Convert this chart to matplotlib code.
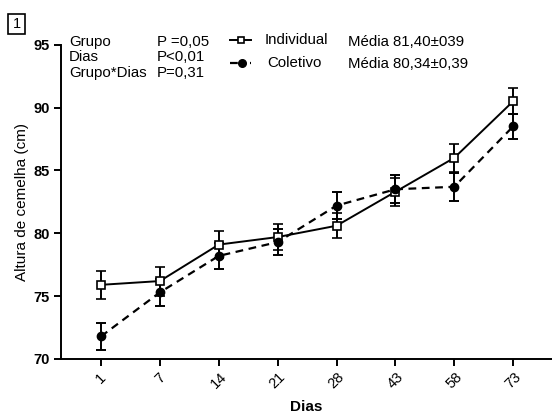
import matplotlib
matplotlib.use("Agg")
import matplotlib.pyplot as plt
from matplotlib.lines import Line2D
from matplotlib.patches import Rectangle
import numpy as np

plt.rcParams['font.family'] = ['Liberation Sans', 'DejaVu Sans']

dias = ["1", "7", "14", "21", "28", "43", "58", "73"]
individual = [75.9, 76.2, 79.1, 79.7, 80.6, 83.3, 86.0, 90.5]
individual_err = [1.1, 1.15, 1.1, 1.05, 1.0, 1.1, 1.1, 1.05]
coletivo = [71.8, 75.3, 78.2, 79.3, 82.2, 83.5, 83.7, 88.5]
coletivo_err = [1.1, 1.1, 1.05, 1.05, 1.1, 1.1, 1.1, 1.0]

fig = plt.figure(figsize=(5.52, 4.17), dpi=100)
ax = fig.add_axes([61/552, 58/417, 1 - 61/552, (359-44.7)/417])

x = np.arange(len(dias))
ax.errorbar(x, individual, yerr=individual_err, color='black', lw=1.4,
            marker='s', ms=5.5, mfc='white', mec='black', mew=1.2,
            capsize=3.5, elinewidth=1.4, capthick=1.4, zorder=3)
ax.errorbar(x, coletivo, yerr=coletivo_err, color='black', lw=1.6, ls=(0, (3.5, 2.5)),
            marker='o', ms=6, mfc='black', mec='black',
            capsize=3.5, elinewidth=1.4, capthick=1.4, zorder=3)

ax.set_xlim(-0.68, 7.66)
ax.set_ylim(70, 95)
ax.set_yticks([70, 75, 80, 85, 90, 95])
ax.set_xticks(x)
ax.set_xticklabels(dias, rotation=45, fontsize=10.5)
for lab in ax.get_yticklabels():
    lab.set_fontsize(10.5)
    lab.set_fontweight('bold')
ax.spines['top'].set_visible(False)
ax.spines['right'].set_visible(False)
ax.spines['left'].set_linewidth(1.4)
ax.spines['bottom'].set_linewidth(1.4)
ax.tick_params(width=1.4, length=5, pad=3)
ax.set_xlabel("Dias", fontsize=11, fontweight='bold', labelpad=6)
ax.set_ylabel("Altura de cemelha (cm)", fontsize=11, labelpad=3)

# Panel label
fig.patches.append(Rectangle((8/552, 1 - 34/417), 17/552, 20/417, transform=fig.transFigure,
                             fill=False, ec='black', lw=1.2))
fig.text(16.5/552, 1 - 24/417, "1", ha='center', va='center', fontsize=10.5)

fs = 10.8
def ft(px, py, s, **kw):
    fig.text(px/552, 1 - py/417, s, fontsize=fs, va='center', **kw)

ft(69, 42, "Grupo")
ft(69, 57, "Dias")
ft(69, 73, "Grupo*Dias")
ft(157, 42, "P =0,05")
ft(157, 57, "P<0,01")
ft(157, 73, "P=0,31")

# legend
fig.lines.append(Line2D([230/552, 251/552], [1 - 40/417, 1 - 40/417], transform=fig.transFigure,
                        color='black', lw=1.4))
fig.lines.append(Line2D([240.5/552], [1 - 40/417], transform=fig.transFigure,
                        color='black', marker='s', ms=5, mfc='white', mew=1.2, ls='none'))
fig.lines.append(Line2D([230/552, 251/552], [1 - 63/417, 1 - 63/417], transform=fig.transFigure,
                        color='black', lw=1.6, ls=(0, (3.5, 5.5))))
fig.lines.append(Line2D([241.5/552], [1 - 63/417], transform=fig.transFigure,
                        color='black', marker='o', ms=5.5, ls='none'))
ft(265, 40, "Individual")
ft(267, 63, "Coletivo")
ft(348, 42, "Média 81,40±039")
ft(348, 64, "Média 80,34±0,39")

fig.savefig("out.png", dpi=100)
